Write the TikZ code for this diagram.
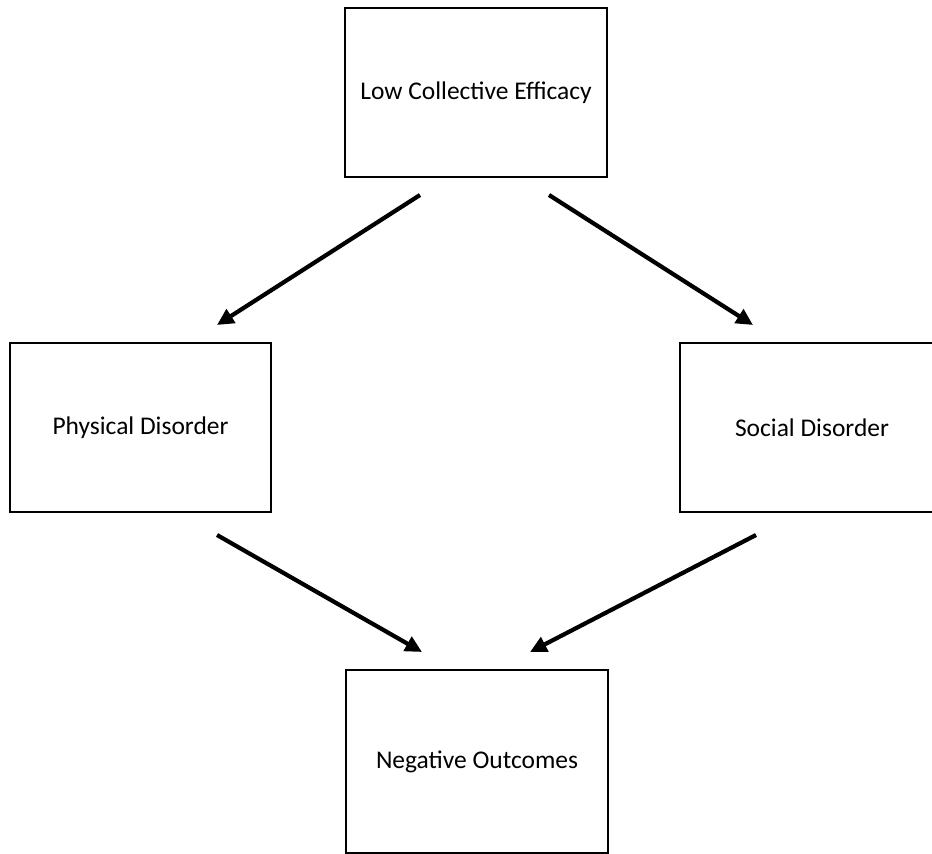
\documentclass[tikz,border=0pt]{standalone}
\usepackage{fontspec}
\setmainfont{Carlito}
\usetikzlibrary{arrows.meta}
\tikzset{
  box/.style={draw, line width=1pt, inner sep=0pt, minimum width=5.24cm,
    minimum height=3.38cm, font=\fontsize{14.5}{17}\selectfont},
  link/.style={line width=2.4pt, -{Triangle[length=9.5pt,width=9pt]}}
}
\begin{document}
\begin{tikzpicture}[x=0.02cm,y=-0.02cm]
      \useasboundingbox (0,0) rectangle (932,854);
      \draw
        (476,92.5) node[box] (eff){Low Collective Efficacy}
        (140.5,427.5) node[box, minimum width=5.22cm] (phys){Physical Disorder}
        (812,427.5) node[box, minimum width=5.28cm] (soc){Social Disorder}
        (477,761.5) node[box, minimum height=3.66cm] (neg){Negative Outcomes};
      % arrow ends
      \coordinate (effL) at (420,195);
      \coordinate (effR) at (549,195);
      \coordinate (physT) at (217,325);
      \coordinate (socT) at (753,325);
      \coordinate (physB) at (217,535);
      \coordinate (socB) at (756,535);
      \coordinate (negL) at (422,652);
      \coordinate (negR) at (530,652);
      \begin{scope}[link]
        \draw (effL) to (physT);
        \draw (effR) to (socT);
        \draw (physB) to (negL);
        \draw (socB) to (negR);
      \end{scope}
    \end{tikzpicture}
\end{document}
